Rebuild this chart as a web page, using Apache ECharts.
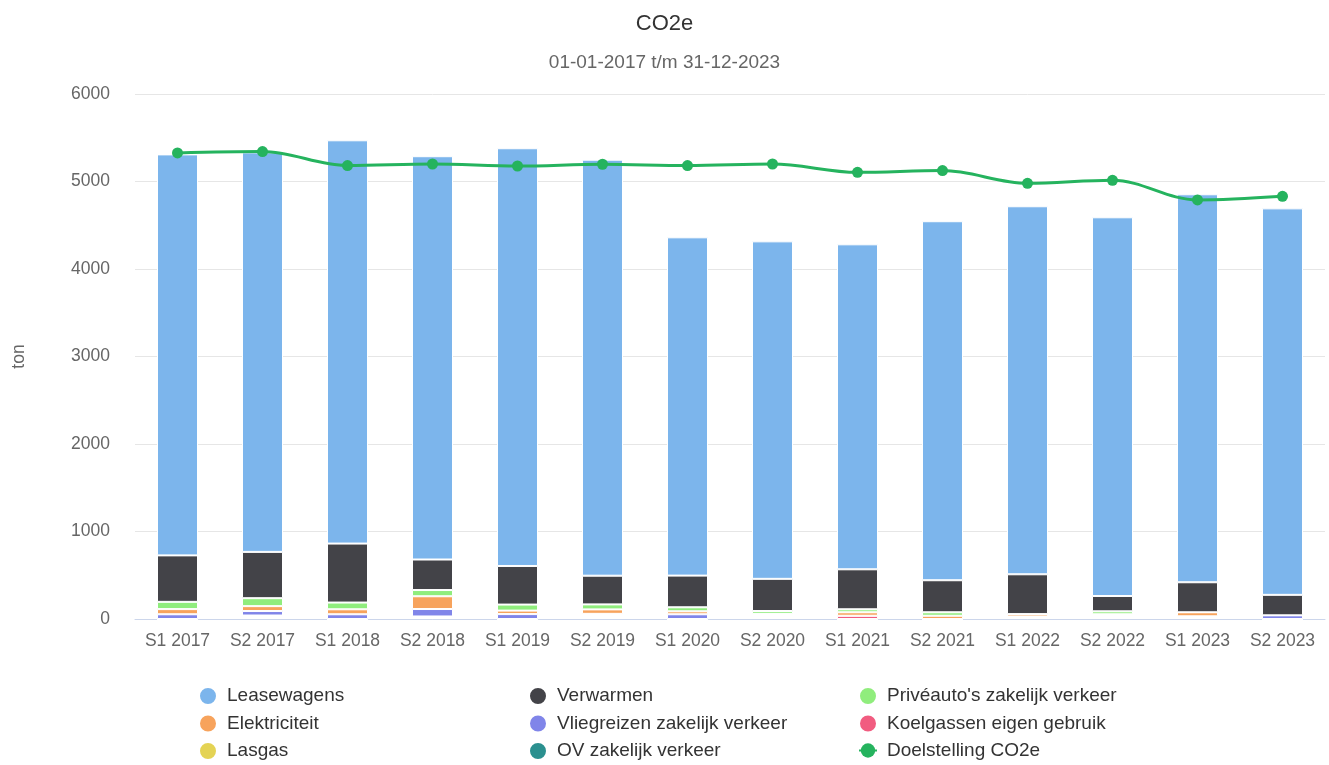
<!DOCTYPE html>
<html>
<head>
<meta charset="utf-8">
<script src="https://cdn.jsdelivr.net/npm/echarts@6/dist/echarts.min.js"></script>
<style>
html,body{margin:0;padding:0;background:#fff;}
#c{width:1329px;height:765px;}
</style>
</head>
<body>
<div id="c"></div>
<script>
const categories = ['S1 2017','S2 2017','S1 2018','S2 2018','S1 2019','S2 2019','S1 2020','S2 2020','S1 2021','S2 2021','S1 2022','S2 2022','S1 2023','S2 2023'];
const leasewagens   = [4583, 4566, 4609, 4609, 4774, 4754, 3866, 3857, 3714, 4103, 4206, 4328, 4434, 4417];
const verwarmen     = [531, 529, 674, 349, 441, 328, 362, 368, 457, 366, 455, 175, 343, 234];
const priveauto     = [83, 91, 77, 71, 69, 57, 46, 32, 34, 40, 0, 34, 0, 0];
const elektriciteit = [59, 56, 57, 146, 40, 51, 34, 0, 40, 37, 27, 0, 46, 0];
const vliegreizen   = [54, 51, 54, 85, 56, 0, 54, 0, 0, 0, 0, 0, 0, 42];
const koelgassen    = [0, 0, 0, 0, 0, 0, 0, 0, 37, 0, 0, 0, 0, 0];
const lasgas        = [0, 0, 0, 0, 0, 0, 0, 0, 0, 0, 0, 0, 0, 0];
const ov            = [0, 0, 0, 0, 0, 0, 0, 0, 0, 0, 0, 0, 0, 0];
const onbenoemd     = [0, 40, 0, 29, 0, 59, 0, 59, 0, 0, 29, 54, 31, 0];
const doelstelling  = [5326, 5342, 5182, 5200, 5177, 5197, 5182, 5200, 5105, 5125, 4979, 5014, 4789, 4831];
const yTicks = {min: 0, max: 6000, interval: 1000};

const colors = {
  'Leasewagens': '#7cb5ec',
  'Verwarmen': '#434348',
  "Privéauto's zakelijk verkeer": '#90ed7d',
  'Elektriciteit': '#f7a35c',
  'Vliegreizen zakelijk verkeer': '#8085e9',
  'Koelgassen eigen gebruik': '#f15c80',
  'Lasgas': '#e4d354',
  'OV zakelijk verkeer': '#2b908f',
  'Doelstelling CO2e': '#25b35e'
};
const FONT = 'Liberation Sans, Arial, sans-serif';

function bar(name, data, color) {
  return {
    name: name, type: 'bar', stack: 'co2', data: data, barWidth: 41,
    itemStyle: {color: color, borderColor: '#ffffff', borderWidth: 1},
    emphasis: {disabled: true}
  };
}

const series = [
  {name: 'onbenoemd', type: 'bar', stack: 'co2', data: onbenoemd, barWidth: 41,
   itemStyle: {color: 'rgba(0,0,0,0)'}, emphasis: {disabled: true}, silent: true},
  bar('OV zakelijk verkeer', ov, colors['OV zakelijk verkeer']),
  bar('Lasgas', lasgas, colors['Lasgas']),
  bar('Koelgassen eigen gebruik', koelgassen, colors['Koelgassen eigen gebruik']),
  bar('Vliegreizen zakelijk verkeer', vliegreizen, colors['Vliegreizen zakelijk verkeer']),
  bar('Elektriciteit', elektriciteit, colors['Elektriciteit']),
  bar("Privéauto's zakelijk verkeer", priveauto, colors["Privéauto's zakelijk verkeer"]),
  bar('Verwarmen', verwarmen, colors['Verwarmen']),
  bar('Leasewagens', leasewagens, colors['Leasewagens']),
  {name: 'Doelstelling CO2e', type: 'line', data: doelstelling, smooth: 0.35, z: 10,
   symbol: 'circle', symbolSize: 11, showSymbol: true,
   lineStyle: {color: colors['Doelstelling CO2e'], width: 3},
   itemStyle: {color: colors['Doelstelling CO2e']}}
];

function legendCol(left, names) {
  return {
    orient: 'vertical', left: left, top: 681, height: 120, itemWidth: 18, itemHeight: 18, itemGap: 7.5,
    textStyle: {color: '#333333', fontSize: 19, fontFamily: FONT, padding: [0, 0, 0, 5]},
    selectedMode: false,
    data: names.map(n => n === 'Doelstelling CO2e' ? {name: n} : {name: n, icon: 'circle'})
  };
}

const chart = echarts.init(document.getElementById('c'), null, {renderer: 'canvas'});
chart.setOption({
  animation: false,
  title: {
    text: 'CO2e', subtext: '01-01-2017 t/m 31-12-2023', left: 'center', top: 8, itemGap: 18,
    textStyle: {color: '#333333', fontSize: 22, fontWeight: 'normal', fontFamily: FONT},
    subtextStyle: {color: '#666666', fontSize: 19, fontFamily: FONT}
  },
  legend: [
    legendCol(193, ['Leasewagens', 'Elektriciteit', 'Lasgas']),
    legendCol(523, ['Verwarmen', 'Vliegreizen zakelijk verkeer', 'OV zakelijk verkeer']),
    legendCol(853, ["Privéauto's zakelijk verkeer", 'Koelgassen eigen gebruik', 'Doelstelling CO2e'])
  ],
  grid: {left: 135, right: 4, top: 94, bottom: 146, containLabel: false},
  xAxis: {
    type: 'category', data: categories,
    axisLine: {lineStyle: {color: '#ccd6eb', width: 1}},
    axisTick: {show: false},
    axisLabel: {color: '#666666', fontSize: 17.5, margin: 13, fontFamily: FONT}
  },
  yAxis: {
    type: 'value', min: yTicks.min, max: yTicks.max, interval: yTicks.interval,
    name: 'ton', nameLocation: 'middle', nameRotate: 90, nameGap: 107,
    nameTextStyle: {color: '#666666', fontSize: 17.5, fontFamily: FONT},
    axisLine: {show: false}, axisTick: {show: false},
    axisLabel: {color: '#666666', fontSize: 17.5, margin: 25, fontFamily: FONT, formatter: v => String(v)},
    splitLine: {lineStyle: {color: '#e6e6e6', width: 1}}
  },
  series: series
});
</script>
</body>
</html>
